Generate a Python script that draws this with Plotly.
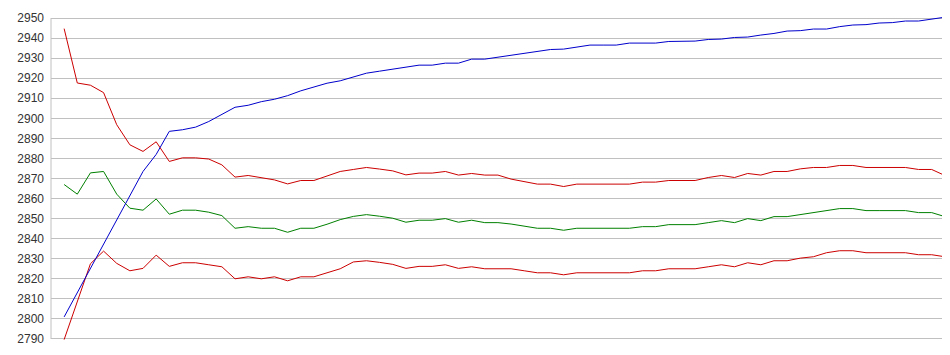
import plotly.graph_objects as go

# Series values, 68 points each
blue = [2801, 2813, 2825, 2837, 2849, 2861.5, 2873.5, 2882, 2893.5, 2894.3,
        2895.6, 2898.4, 2901.9, 2905.5, 2906.5, 2908.3, 2909.5, 2911.3, 2913.7, 2915.7,
        2917.5, 2918.7, 2920.6, 2922.5, 2923.5, 2924.5, 2925.5, 2926.5, 2926.5, 2927.5,
        2927.5, 2929.5, 2929.5, 2930.5, 2931.2, 2932.3, 2933.3, 2934.3, 2934.5, 2935.5,
        2936.5, 2936.5, 2936.5, 2937.5, 2937.5, 2937.5, 2938.3, 2938.5, 2938.5, 2939.3,
        2939.5, 2940.3, 2940.5, 2941.5, 2942.3, 2943.5, 2943.7, 2944.5, 2944.5, 2945.7,
        2946.5, 2946.7, 2947.5, 2947.7, 2948.5, 2948.5, 2949.3, 2950.4]

red_upper = [2944.7, 2917.6, 2916.5, 2912.8, 2896.8, 2886.8, 2883.5, 2888.3, 2878.5, 2880.3,
             2880.3, 2879.7, 2876.8, 2870.7, 2871.5, 2870.5, 2869.3, 2867.3, 2869, 2869,
             2871.3, 2873.5, 2874.5, 2875.5, 2874.7, 2873.8, 2871.8, 2872.7, 2872.7, 2873.5,
             2871.7, 2872.5, 2871.7, 2871.7, 2869.7, 2868.5, 2867.2, 2867.2, 2866, 2867.2,
             2867.2, 2867.2, 2867.2, 2867.2, 2868.2, 2868.2, 2869, 2869, 2869, 2870.5,
             2871.5, 2870.5, 2872.5, 2871.7, 2873.5, 2873.5, 2874.8, 2875.5, 2875.5, 2876.5,
             2876.5, 2875.5, 2875.5, 2875.5, 2875.5, 2874.5, 2874.5, 2871.5]

green = [2867, 2862.2, 2872.8, 2873.5, 2862.2, 2855.2, 2854.2, 2859.8, 2852.2, 2854.2,
         2854.2, 2853.2, 2851.5, 2845.2, 2846, 2845.2, 2845.2, 2843.2, 2845.2, 2845.2,
         2847.2, 2849.5, 2851.1, 2852, 2851.2, 2850.2, 2848.2, 2849.2, 2849.2, 2850,
         2848.2, 2849.2, 2848, 2848, 2847.3, 2846.2, 2845.2, 2845.2, 2844.2, 2845.2,
         2845.2, 2845.2, 2845.2, 2845.2, 2846, 2846, 2847, 2847, 2847, 2848,
         2849, 2848, 2850, 2849, 2851, 2851, 2852, 2853, 2854.2, 2855,
         2855, 2854, 2854, 2854, 2854, 2853, 2853, 2851]

red_lower = [2789.7, 2808.5, 2827.5, 2833.8, 2827.7, 2824, 2825.2, 2831.8, 2826.2, 2828,
             2828, 2827, 2826, 2820, 2821, 2820, 2821, 2819, 2821, 2821,
             2823, 2825, 2828.4, 2829, 2828.2, 2827.2, 2825.2, 2826.2, 2826.2, 2827,
             2825.2, 2826, 2825, 2825, 2825, 2824, 2823, 2823, 2822, 2823,
             2823, 2823, 2823, 2823, 2824, 2824, 2825, 2825, 2825, 2826,
             2827, 2826, 2828, 2827, 2829, 2829, 2830.3, 2831, 2833, 2834,
             2834, 2833, 2833, 2833, 2833, 2832, 2832, 2831]

y_ticks = list(range(2790, 2951, 10))
x = list(range(len(blue)))

fig = go.Figure()
for vals, col in [(red_lower, "#CC0000"), (green, "#008000"),
                  (red_upper, "#CC0000"), (blue, "#0000CC")]:
    fig.add_trace(go.Scatter(x=x, y=vals, mode="lines",
                             line=dict(color=col, width=1),
                             hoverinfo="skip", showlegend=False))

fig.update_layout(
    width=950, height=355,
    margin=dict(l=43, r=0, t=8, b=22),
    paper_bgcolor="white", plot_bgcolor="white",
    font=dict(family="Liberation Sans, Arial, sans-serif", size=12, color="#333333"),
    xaxis=dict(range=[-1, len(blue)], showgrid=False, zeroline=False,
               showticklabels=False, ticks="", showline=False),
    yaxis=dict(range=[2789, 2951], tickvals=y_ticks, ticktext=[str(t) for t in y_ticks],
               showgrid=True, gridcolor="#C0C0C0", gridwidth=1, zeroline=False,
               ticks="", showline=False, ticklabelstandoff=6),
    shapes=[dict(type="line", xref="paper", yref="y", x0=0, x1=0,
                 y0=2790, y1=2950, line=dict(color="#C0C0C0", width=1))],
)

fig.write_html("out.html")
